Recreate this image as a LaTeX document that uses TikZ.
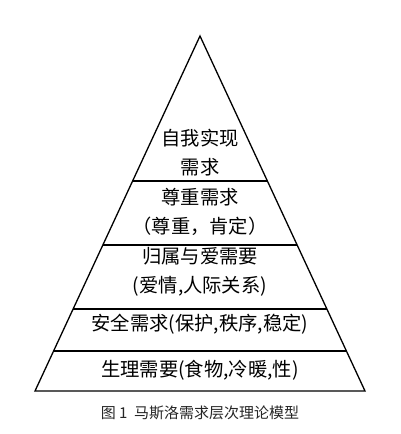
\documentclass[tikz,border=0pt]{standalone}
\usepackage{fontspec}
\usetikzlibrary{calc}
\newfontfamily\cjk{Noto Sans CJK SC}
\tikzset{
  pyr/.style={line width=1.3pt, line join=miter},
  lvl/.style={inner sep=0pt, align=center, font=\cjk\fontsize{19.3}{29}\selectfont},
  captext/.style={inner sep=0pt, text=black!85, font=\cjk\fontsize{15}{18}\selectfont}
}
\begin{document}
\begin{tikzpicture}[x=1pt,y=-1pt]
\useasboundingbox (0,0) rectangle (400,434);
\coordinate (A) at (200,36);
\coordinate (L) at (35,391);
\coordinate (R) at (365,391);
\draw[pyr] (L) -- (A) -- (R) -- cycle;
\coordinate (l1) at ($(A)!0.4085!(L)$); \coordinate (r1) at ($(A)!0.4085!(R)$);
\coordinate (l2) at ($(A)!0.5887!(L)$); \coordinate (r2) at ($(A)!0.5887!(R)$);
\coordinate (l3) at ($(A)!0.7690!(L)$); \coordinate (r3) at ($(A)!0.7690!(R)$);
\coordinate (l4) at ($(A)!0.8873!(L)$); \coordinate (r4) at ($(A)!0.8873!(R)$);
\draw[pyr] (l1) -- (r1);
\draw[pyr] (l2) -- (r2);
\draw[pyr] (l3) -- (r3);
\draw[pyr] (l4) -- (r4);
\node[lvl] (t1) at (200,153) {自我实现\\需求};
\node[lvl] (t2) at (200,211.5) {尊重需求\\（尊重，肯定）};
\node[lvl] (t3) at (200,272) {归属与爱需要\\(爱情,人际关系)};
\node[lvl] (t4) at (200,324) {安全需求(保护,秩序,稳定)};
\node[lvl] (t5) at (200,370) {生理需要(食物,冷暖,性)};
\node[captext] (c) at (200,413) {图 1\ \ 马斯洛需求层次理论模型};
\end{tikzpicture}
\end{document}
